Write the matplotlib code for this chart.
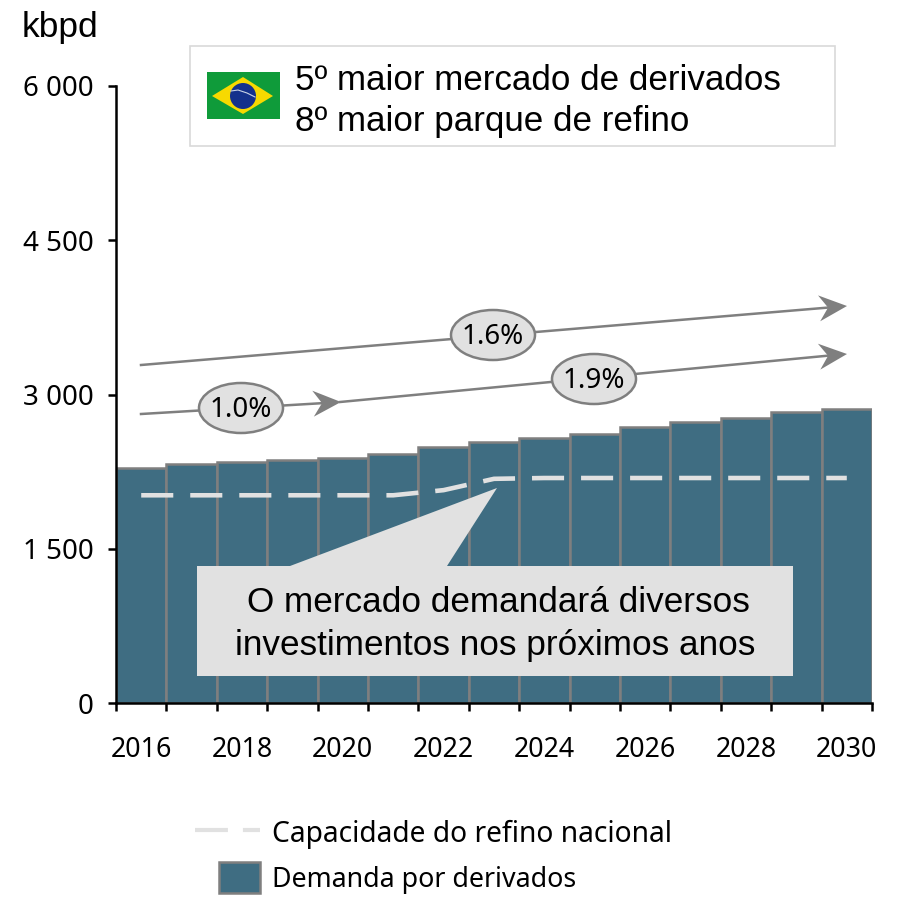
import numpy as np
import matplotlib
matplotlib.use('Agg')
import matplotlib.pyplot as plt
from matplotlib.patches import Rectangle, Polygon, Ellipse

years = [2016, 2017, 2018, 2019, 2020, 2021, 2022, 2023, 2024, 2025, 2026, 2027, 2028, 2029, 2030]
demanda = [2285, 2324, 2343, 2363, 2387, 2426, 2494, 2538, 2581, 2620, 2684, 2732, 2771, 2834, 2859]
capacidade = [2020, 2020, 2020, 2020, 2020, 2020, 2070, 2180, 2188, 2188, 2188, 2188, 2188, 2188, 2188]
y_ticks = [0, 1500, 3000, 4500, 6000]
y_labels = ['0', '1 500', '3 000', '4 500', '6 000']

W, H = 897, 898
BAR = '#3f6d82'
EDGE = '#7f7f7f'
LIGHT = '#e1e1e1'
TAHOMA = 'Noto Sans'
ARIAL = 'Liberation Sans'

fig = plt.figure(figsize=(W / 100, H / 100), dpi=100)
ax = fig.add_axes([116 / W, (H - 703) / H, 756 / W, 617 / H])

x = np.arange(len(years))
ax.bar(x, demanda, width=1.0, color=BAR, edgecolor=EDGE, linewidth=1.8, zorder=2)
line, = ax.plot(x, capacidade, color=LIGHT, linewidth=3.3, zorder=3, solid_capstyle='butt')
line.set_dashes([7.0, 3.7])
line.set_dash_capstyle('butt')

ax.set_xlim(-0.5, 14.5)
ax.set_ylim(0, 6000)
ax.set_xticks(np.arange(-0.5, 15, 1))
ax.set_xticklabels([])
ax.set_xticks(x[::2], minor=True)
ax.set_xticklabels([str(y) for y in years[::2]], minor=True, fontsize=19.3, family=TAHOMA)
ax.tick_params(axis='x', which='minor', length=0, pad=24)
ax.tick_params(axis='x', which='major', length=6, width=1.8)
ax.set_yticks(y_ticks)
ax.set_yticklabels(y_labels, fontsize=20, family=TAHOMA)
ax.tick_params(axis='y', length=6, width=1.8, pad=10)
for s in ['top', 'right']:
    ax.spines[s].set_visible(False)
for s in ['left', 'bottom']:
    ax.spines[s].set_linewidth(1.8)
    ax.spines[s].set_zorder(5)

# overlay in pixel coordinates for the annotations
ov = fig.add_axes([0, 0, 1, 1])
ov.set_xlim(0, W)
ov.set_ylim(H, 0)
ov.axis('off')
ov.patch.set_alpha(0)

ov.text(22, 27, 'kbpd', fontsize=25.5, family=ARIAL, va='center', ha='left')

# box with flag
ov.add_patch(Rectangle((189.5, 46), 645, 100, facecolor='white', edgecolor='#d9d9d9', linewidth=1.2))
ov.add_patch(Rectangle((207, 72), 73, 47, facecolor='#0f9b3a', edgecolor='none'))
ov.add_patch(Polygon([(212, 96), (243, 77), (273, 96), (243, 114)], facecolor='#f7d900', edgecolor='none'))
ov.add_patch(Ellipse((243, 96), 26, 26, facecolor='#14318c', edgecolor='none'))
ov.plot([231, 238, 247, 255], [91, 90, 93, 97], color='#c9d3e6', lw=0.8)
ov.text(295, 81, '5º maior mercado de derivados', fontsize=25.2, family=ARIAL, va='center')
ov.text(295, 122, '8º maior parque de refino', fontsize=25.2, family=ARIAL, va='center')

# growth arrows
def head(tx, ty, ang):
    c, s = np.cos(ang), np.sin(ang)
    pts = [(0, 0), (-28, -13), (-19, 0), (-28, 13)]
    ov.add_patch(Polygon([(tx + a * c - b * s, ty + a * s + b * c) for a, b in pts],
                         facecolor=EDGE, edgecolor='none', zorder=4))

ov.plot([141, 835], [365, 307], color=EDGE, lw=1.8, zorder=3)
head(847, 306, np.arctan2(-59, 705))
ov.plot([141, 325], [414, 403], color=EDGE, lw=1.8, zorder=3)
head(341, 402, np.arctan2(-12, 199))
ov.plot([340, 835], [402, 355], color=EDGE, lw=1.8, zorder=3)
head(847, 354, np.arctan2(-48, 506))

for cx, cy, lab in [(493, 335, '1.6%'), (241, 408, '1.0%'), (594, 379, '1.9%')]:
    ov.add_patch(Ellipse((cx, cy), 84, 50, facecolor=LIGHT, edgecolor=EDGE, linewidth=1.8, zorder=5))
    ov.text(cx, cy + 2, lab, fontsize=20, family=TAHOMA, ha='center', va='center', zorder=6)

# callout
ov.add_patch(Polygon([(497, 488), (290, 566), (447, 566)], facecolor=LIGHT, edgecolor='none', zorder=4))
ov.add_patch(Rectangle((197, 566), 596, 110, facecolor=LIGHT, edgecolor='none', zorder=4))
ov.text(498, 603, 'O mercado demandará diversos', fontsize=25.3, family=ARIAL, ha='center', va='center', zorder=6)
ov.text(495, 645, 'investimentos nos próximos anos', fontsize=25.3, family=ARIAL, ha='center', va='center', zorder=6)

# legend
lg, = ov.plot([195, 260], [830, 830], color=LIGHT, lw=3)
lg.set_dashes([7.9, 3.6])
lg.set_dash_capstyle('butt')
ov.add_patch(Rectangle((219, 862), 41, 31, facecolor=BAR, edgecolor=EDGE, linewidth=1.8))
ov.text(272, 834, 'Capacidade do refino nacional', fontsize=20.3, family=TAHOMA, va='center')
ov.text(272, 880, 'Demanda por derivados', fontsize=19.3, family=TAHOMA, va='center')

fig.savefig('out.png', dpi=100)
